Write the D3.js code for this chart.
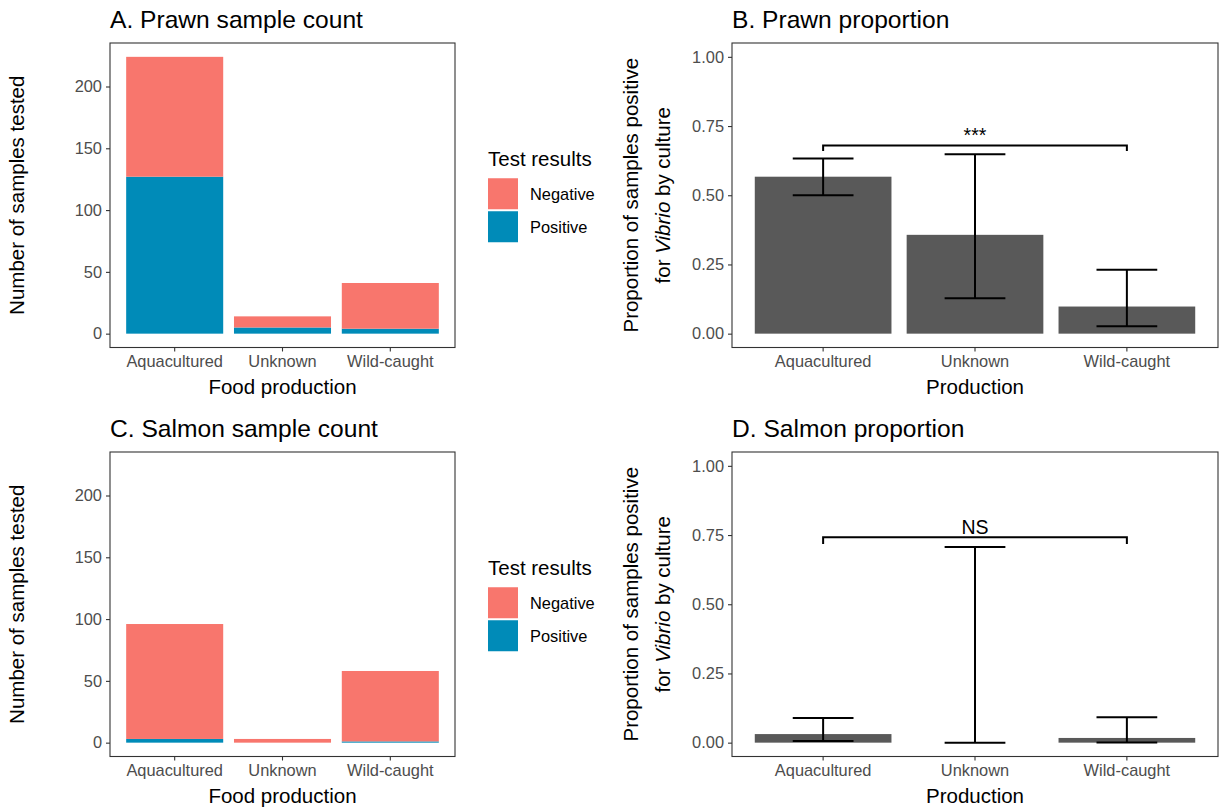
<!DOCTYPE html>
<html>
<head>
<meta charset="utf-8">
<script src="https://cdn.jsdelivr.net/npm/d3@7"></script>
<style>
  body { margin: 0; background: #fff; }
  svg { font-family: "Liberation Sans", Arial, sans-serif; }
</style>
</head>
<body>
<svg id="chart" width="1219" height="807"></svg>
<script>
// categories and values
const production = ['Aquacultured', 'Unknown', 'Wild-caught'];
const results = ['Negative', 'Positive'];

const prawnPositive = [127, 5, 4];
const prawnNegative = [97, 9, 37];
const salmonPositive = [3, 0, 1];
const salmonNegative = [93, 3, 57];

const prawnProp = [0.567, 0.357, 0.098];
const prawnLow = [0.500, 0.128, 0.027];
const prawnHigh = [0.633, 0.648, 0.231];
const salmonProp = [0.031, 0.0, 0.017];
const salmonLow = [0.006, 0.0, 0.001];
const salmonHigh = [0.089, 0.707, 0.092];

const countTicks = [0, 50, 100, 150, 200];
const propTicks = [0, 0.25, 0.5, 0.75, 1];

const colors = { Negative: '#F8766D', Positive: '#008BB8' };
const ink = '#333333', tickText = '#4D4D4D';

const svg = d3.select('#chart');

// shared scales: counts are on a common y axis for A and C
const countMax = d3.max(prawnPositive.map((d, i) => d + prawnNegative[i]));

function bandScale(box) {
    // ggplot style: bars 0.9 wide, 0.6 units of expansion each side
    return d3.scaleBand().domain(production)
        .range([box.left, box.right]).paddingInner(0.1).paddingOuter(0.15);
}

function panelFrame(g, box, x, y, ticks, fmt, xTitle, title) {
    g.append('rect')
        .attr('x', box.left).attr('y', box.top)
        .attr('width', box.right - box.left).attr('height', box.bottom - box.top)
        .attr('fill', 'none').attr('stroke', ink).attr('stroke-width', 1.1);

    // y axis
    const ya = g.append('g').attr('transform', 'translate(' + box.left + ',0)')
        .call(d3.axisLeft(y).tickValues(ticks).tickFormat(fmt).tickSize(4).tickPadding(4));
    ya.select('.domain').remove();
    ya.selectAll('line').attr('stroke', ink).attr('stroke-width', 1.1);
    ya.selectAll('text').attr('fill', tickText).style('font-size', '16.4px')
        .style('font-family', '"Liberation Sans", Arial, sans-serif');

    // x axis
    const xa = g.append('g').attr('transform', 'translate(0,' + box.bottom + ')')
        .call(d3.axisBottom(x).tickSize(4).tickPadding(4));
    xa.select('.domain').remove();
    xa.selectAll('line').attr('stroke', ink).attr('stroke-width', 1.1);
    xa.selectAll('text').attr('fill', tickText).style('font-size', '16.4px')
        .style('font-family', '"Liberation Sans", Arial, sans-serif');

    g.append('text')
        .attr('x', (box.left + box.right) / 2).attr('y', box.bottom + 46)
        .attr('text-anchor', 'middle').style('font-size', '20.5px')
        .text(xTitle);

    g.append('text')
        .attr('x', box.left).attr('y', box.top - 15.5)
        .style('font-size', '24.6px')
        .text(title);
}

function countPanel(box, pos, neg, title) {
    const g = svg.append('g');
    const x = bandScale(box);
    const y = d3.scaleLinear().domain([-0.05 * countMax, 1.05 * countMax])
        .range([box.bottom, box.top]);

    const rows = production.map((p, i) => ({ p: p, Positive: pos[i], Negative: neg[i] }));
    const stack = d3.stack().keys(['Positive', 'Negative'])(rows);

    g.selectAll('.layer').data(stack).enter().append('g')
        .attr('fill', (d) => colors[d.key])
        .selectAll('rect').data((d) => d).enter().append('rect')
        .attr('x', (d) => x(d.data.p))
        .attr('width', x.bandwidth())
        .attr('y', (d) => y(d[1]))
        .attr('height', (d) => y(d[0]) - y(d[1]));

    panelFrame(g, box, x, y, countTicks, d3.format('d'), 'Food production', title);

    g.append('text')
        .attr('transform', 'translate(' + (box.left - 86) + ',' + ((box.top + box.bottom) / 2) + ') rotate(-90)')
        .attr('text-anchor', 'middle').style('font-size', '20.5px')
        .text('Number of samples tested');

    // legend
    const cy = (box.top + box.bottom) / 2;
    const lg = g.append('g').attr('transform', 'translate(488,' + (cy - 47) + ')');
    lg.append('text').attr('x', 0).attr('y', 18).style('font-size', '20.5px').text('Test results');
    results.forEach((r, i) => {
        lg.append('rect').attr('x', 0).attr('y', 30 + i * 33)
            .attr('width', 30).attr('height', 31).attr('fill', colors[r]);
        lg.append('text').attr('x', 42).attr('y', 46 + i * 33)
            .attr('dy', '0.35em').style('font-size', '16.4px').text(r);
    });
}

function propPanel(box, prop, low, high, sig, title) {
    const g = svg.append('g');
    const x = bandScale(box);
    const y = d3.scaleLinear().domain([-0.05, 1.05]).range([box.bottom, box.top]);
    const step = x.step();
    const cx = (p) => x(p) + x.bandwidth() / 2;

    g.selectAll('.bar').data(production).enter().append('rect')
        .attr('fill', '#595959')
        .attr('x', (p) => x(p)).attr('width', x.bandwidth())
        .attr('y', (p, i) => y(prop[i]))
        .attr('height', (p, i) => y(0) - y(prop[i]));

    const eb = g.selectAll('.err').data(production).enter().append('g')
        .attr('stroke', '#000').attr('stroke-width', 2).attr('fill', 'none');
    eb.append('line')
        .attr('x1', cx).attr('x2', cx)
        .attr('y1', (p, i) => y(low[i])).attr('y2', (p, i) => y(high[i]));
    eb.append('line')
        .attr('x1', (p) => cx(p) - 0.2 * step).attr('x2', (p) => cx(p) + 0.2 * step)
        .attr('y1', (p, i) => y(high[i])).attr('y2', (p, i) => y(high[i]));
    eb.append('line')
        .attr('x1', (p) => cx(p) - 0.2 * step).attr('x2', (p) => cx(p) + 0.2 * step)
        .attr('y1', (p, i) => y(low[i])).attr('y2', (p, i) => y(low[i]));

    // significance bracket between Aquacultured and Wild-caught
    const x1 = cx(production[0]), x2 = cx(production[2]);
    g.append('path')
        .attr('d', 'M' + x1 + ',' + y(sig.tip) + 'V' + y(sig.y) + 'H' + x2 + 'V' + y(sig.tip))
        .attr('stroke', '#000').attr('stroke-width', 2).attr('fill', 'none');
    g.append('text')
        .attr('x', (x1 + x2) / 2).attr('y', y(sig.y) - 3)
        .attr('text-anchor', 'middle').style('font-size', '19.5px')
        .text(sig.label);

    panelFrame(g, box, x, y, propTicks, d3.format('.2f'), 'Production', title);

    const mid = (box.top + box.bottom) / 2;
    g.append('text')
        .attr('transform', 'translate(' + (box.left - 94) + ',' + mid + ') rotate(-90)')
        .attr('text-anchor', 'middle').style('font-size', '20.5px')
        .text('Proportion of samples positive');
    const t2 = g.append('text')
        .attr('transform', 'translate(' + (box.left - 62) + ',' + mid + ') rotate(-90)')
        .attr('text-anchor', 'middle').style('font-size', '20.5px');
    t2.append('tspan').text('for ');
    t2.append('tspan').style('font-style', 'italic').text('Vibrio');
    t2.append('tspan').text(' by culture');
}

countPanel({ left: 110, right: 455, top: 43, bottom: 347.5 }, prawnPositive, prawnNegative, 'A. Prawn sample count');
propPanel({ left: 732, right: 1218, top: 43, bottom: 347.5 }, prawnProp, prawnLow, prawnHigh,
    { y: 0.68, tip: 0.66, label: '***' }, 'B. Prawn proportion');
countPanel({ left: 110, right: 455, top: 452, bottom: 756.5 }, salmonPositive, salmonNegative, 'C. Salmon sample count');
propPanel({ left: 732, right: 1218, top: 452, bottom: 756.5 }, salmonProp, salmonLow, salmonHigh,
    { y: 0.742, tip: 0.718, label: 'NS' }, 'D. Salmon proportion');
</script>
</body>
</html>
